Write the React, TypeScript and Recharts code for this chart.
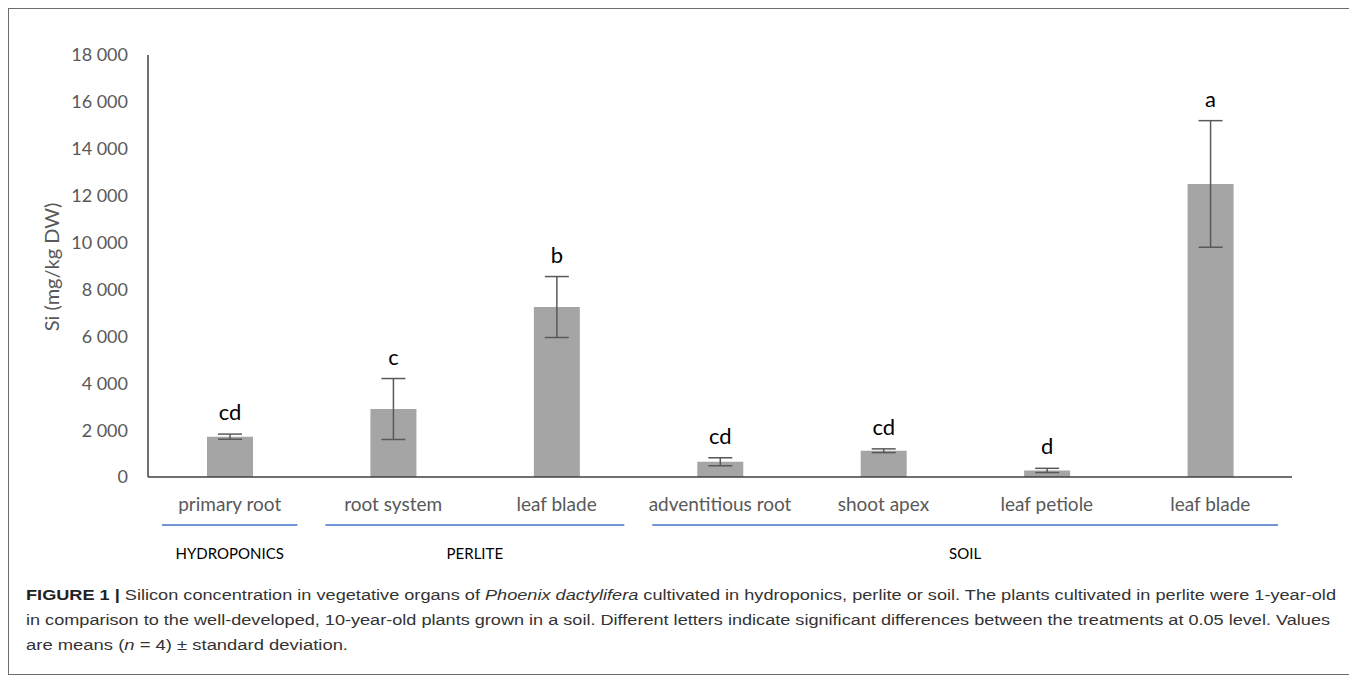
import React from "react"
import { BarChart, Bar, XAxis, YAxis, ErrorBar, LabelList } from "recharts"

const organs = ["primary root", "root system", "leaf blade", "adventitious root", "shoot apex", "leaf petiole", "leaf blade"]
const means = [1720, 2900, 7250, 650, 1120, 280, 12500]
const sds = [110, 1300, 1300, 170, 80, 90, 2700]
const letters = ["cd", "c", "b", "cd", "cd", "d", "a"]
const yTicks = [0, 2000, 4000, 6000, 8000, 10000, 12000, 14000, 16000, 18000]

const groupNames = ["HYDROPONICS", "PERLITE", "SOIL"]
const groupFirst = [0, 1, 3]
const groupLast = [0, 2, 6]

const FONT = "Lato, Carlito, 'Open Sans', sans-serif"
const CAPTION_FONT = "'Liberation Sans', Arial, sans-serif"

// chart geometry (relative to the framed box)
const W = 1340
const H = 560
const M = { top: 47, right: 56, bottom: 31, left: 0 }
const Y_AXIS_W = 140
const X_AXIS_H = 60
const plotLeft = M.left + Y_AXIS_W
const plotRight = W - M.right
const band = (plotRight - plotLeft) / organs.length

const data = organs.map((name, i) => ({ name, value: means[i], err: sds[i] }))

const fmt = (v: number) =>
  v >= 1000 ? `${Math.floor(v / 1000)} ${String(v % 1000).padStart(3, "0")}` : `${v}`

const renderLetter = (props: any) => {
  const { x, y, width, height, index, value } = props
  const perUnit = Number(height) / Number(value)
  const top = Number(y) - sds[index] * perUnit
  return (
    <text x={Number(x) + Number(width) / 2} y={top - 14} textAnchor="middle" fontSize={22} fill="#000" fontFamily={FONT}>
      {letters[index]}
    </text>
  )
}

export default function App() {
  const inset = 14
  return (
    <div style={{ position: "relative", width: 1343, height: 667 }}>
      <div style={{ position: "absolute", left: 0, top: 0, width: 1343, height: 667, boxSizing: "border-box", border: "1.5px solid #6d6d6d" }} />
      <div style={{ position: "absolute", left: 0, top: 0 }}>
        <BarChart width={W} height={H} data={data} margin={M}>
          <XAxis
            dataKey="name"
            height={X_AXIS_H}
            tickLine={false}
            tickSize={0}
            tickMargin={21}
            interval={0}
            axisLine={{ stroke: "#404040", strokeWidth: 1.5 }}
            tick={{ fill: "#595959", fontSize: 19, fontFamily: FONT }}
          />
          <YAxis
            width={Y_AXIS_W}
            domain={[0, 18000]}
            ticks={yTicks}
            tickFormatter={fmt}
            tickLine={false}
            tickSize={0}
            tickMargin={20}
            axisLine={{ stroke: "#404040", strokeWidth: 1.5 }}
            tick={{ fill: "#595959", fontSize: 18, fontFamily: FONT }}
          />
          <Bar dataKey="value" fill="#A5A5A5" barSize={46} isAnimationActive={false}>
            <ErrorBar dataKey="err" width={12} stroke="#595959" strokeWidth={1.5} direction="y" />
            <LabelList dataKey="value" content={renderLetter} />
          </Bar>
        </BarChart>
      </div>
      <svg width={1343} height={667} style={{ position: "absolute", left: 0, top: 0, pointerEvents: "none" }}>
        <text
          x={43}
          y={259}
          transform="rotate(-90 43 259)"
          textAnchor="middle"
          dominantBaseline="central"
          fontSize={20}
          fill="#595959"
          fontFamily={FONT}
        >
          Si (mg/kg DW)
        </text>
        {groupNames.map((g, i) => {
          const x1 = plotLeft + groupFirst[i] * band + inset
          const x2 = plotLeft + (groupLast[i] + 1) * band - inset
          return (
            <g key={g}>
              <line x1={x1} x2={x2} y1={517} y2={517} stroke="#4472C4" strokeWidth={1.5} />
              <text x={(x1 + x2) / 2} y={551} textAnchor="middle" fontSize={15} fill="#000" fontFamily={FONT}>
                {g}
              </text>
            </g>
          )
        })}
        <g fontFamily={CAPTION_FONT} fontSize={15.5} fill="#333">
          <text x={18} y={592} textLength={1310} lengthAdjust="spacingAndGlyphs">
            <tspan fontWeight="bold" fill="#222">FIGURE 1 | </tspan>
            Silicon concentration in vegetative organs of <tspan fontStyle="italic">Phoenix dactylifera</tspan> cultivated in
            hydroponics, perlite or soil. The plants cultivated in perlite were 1-year-old
          </text>
          <text x={18} y={617} textLength={1304} lengthAdjust="spacingAndGlyphs">
            in comparison to the well-developed, 10-year-old plants grown in a soil. Different letters indicate significant
            differences between the treatments at 0.05 level. Values
          </text>
          <text x={18} y={642} textLength={322} lengthAdjust="spacingAndGlyphs">
            are means (<tspan fontStyle="italic">n</tspan> = 4) ± standard deviation.
          </text>
        </g>
      </svg>
    </div>
  )
}
